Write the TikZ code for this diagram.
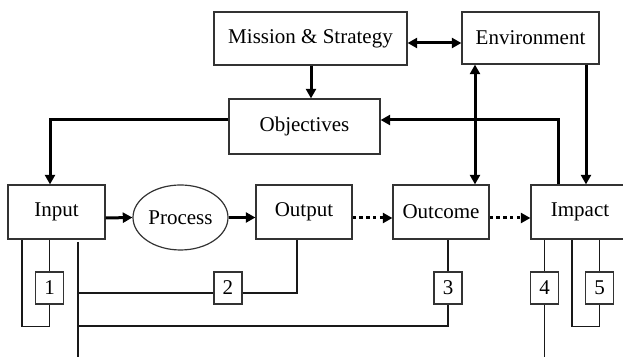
\documentclass[tikz,border=0pt]{standalone}
\usepackage{fontspec}
\setmainfont{Liberation Serif}
\usetikzlibrary{arrows.meta,shapes.geometric,calc}
\begin{document}
\begin{tikzpicture}[x=0.5pt,y=-0.5pt,
  every node/.style={font=\fontsize{10.5}{12.6}\selectfont, inner sep=0pt},
  blk/.style={draw=black!80, line width=0.6pt, fill=white},
  numbox/.style={blk, minimum width=14pt, minimum height=16pt},
  flow/.style={line width=1.5pt, -{Triangle[length=4.8pt,width=5pt]}},
  flow2/.style={line width=1.5pt, {Triangle[length=4.8pt,width=5pt]}-{Triangle[length=4.8pt,width=5pt]}},
  dotflow/.style={flow, dash pattern=on 1.7pt off 1.7pt},
  link/.style={line width=0.55pt, black!90}]
\useasboundingbox (0,0) rectangle (623,357);
\clip (0,0) rectangle (623,357);

% lanes and columns used by the connectors
\coordinate (r43) at (0,43);
\coordinate (lane) at (0,120);
\coordinate (r218) at (0,218);
\coordinate (r293) at (0,293);
\coordinate (r326) at (0,326);
\coordinate (c22) at (22,0);
\coordinate (c50) at (50,0);
\coordinate (c297) at (297,0);
\coordinate (c311) at (311,0);
\coordinate (c475) at (475,0);
\coordinate (c558) at (558,0);
\coordinate (c572) at (572,0);
\coordinate (c586) at (586,0);
\coordinate (vtop) at (78,242);
\coordinate (vbot) at (78,357);

% blocks
\node[blk, minimum width=96.5pt, minimum height=26.5pt] (mission) at (310.5,38.5) {Mission \& Strategy};
\node[blk, minimum width=68.5pt, minimum height=26pt] (env) at (530.5,38) {Environment};
\node[blk, minimum width=75.5pt, minimum height=27.5pt] (obj) at (304.5,126.5) {Objectives};
\node[blk, minimum width=48.5pt, minimum height=27pt] (input) at (56.5,212) {Input};
\node[blk, ellipse, minimum width=47.5pt, minimum height=32.5pt] (process) at (180.5,217.5) {Process};
\node[blk, minimum width=48pt, minimum height=27pt] (output) at (304,212) {Output};
\node[blk, minimum width=48pt, minimum height=27pt] (outcome) at (441,212) {Outcome};
\node[blk, minimum width=49pt, minimum height=27pt] (impact) at (580,212) {Impact};

% numbered indicator boxes
\node[numbox] (b1) at (49.5,288) {1};
\node[numbox] (b2) at (228,288) {2};
\node[numbox] (b3) at (448,288) {3};
\node[numbox] (b4) at (544.5,288) {4};
\node[numbox] (b5) at (599.5,288) {5};

% strategic links
\draw[flow2] (mission.east |- r43) -- (env.west |- r43);
\draw[flow] (mission.south -| c311) -- (obj.north -| c311);
\draw[flow] (obj.west |- lane) -| (input.north -| c50);
\draw[flow] (impact.north -| c558) |- (obj.east |- lane);
\draw[flow] (env.south -| c586) -- (impact.north -| c586);
\draw[flow2] (outcome.north -| c475) -- (env.south -| c475);

% results chain
\draw[flow] (input.east |- r218) -- (process.west);
\draw[flow] (process.east) -- (output.west |- process.east);
\draw[dotflow] (output.east |- r218) -- (outcome.west |- r218);
\draw[dotflow] (outcome.east |- r218) -- (impact.west |- r218);

% indicator loops
\draw[link] (input.south -| b1.north) -- (b1.north);
\draw[link] (b1.south) -- ++(0,22) -| (input.south -| c22);
\draw[link] (vtop) -- (vbot);
\draw[link] (vtop |- r293) -- (b2.west |- r293);
\draw[link] (b2.east |- r293) -| (output.south -| c297);
\draw[link] (vtop |- r326) -| (b3.south);
\draw[link] (b3.north) -- (outcome.south -| b3.north);
\draw[link] (impact.south -| b4.north) -- (b4.north);
\draw[link] (b4.south) -- (b4.south |- vbot);
\draw[link] (impact.south -| b5.north) -- (b5.north);
\draw[link] (b5.south) -- ++(0,22) -| (impact.south -| c572);
\end{tikzpicture}
\end{document}
